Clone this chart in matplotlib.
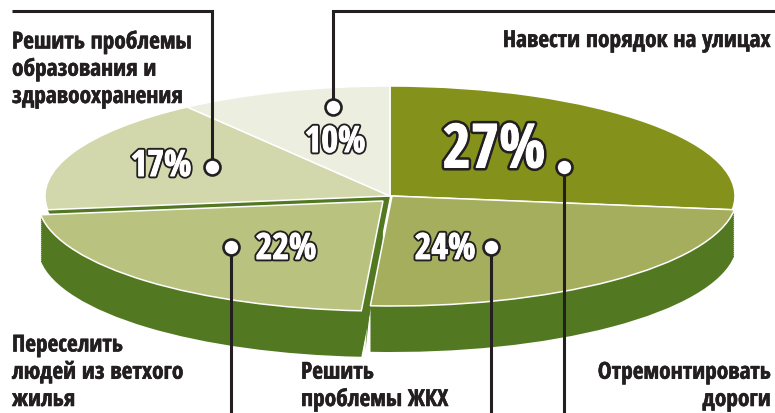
import matplotlib
matplotlib.use("Agg")
import matplotlib.pyplot as plt
import matplotlib.patheffects as pe

plt.rcParams['font.family'] = ['Open Sans Condensed', 'Roboto Condensed', 'DejaVu Sans']

values = [27, 24, 22, 17, 10]
percent_labels = ['27%', '24%', '22%', '17%', '10%']
slice_colors = ['#84921b', '#a4ae5d', '#bac280', '#d3d7ac', '#eceedf']

RIM = '#527921'
INK = '#231f20'
W, H = 775, 414
CX, CY, RX, RY = 390, 197, 345, 110
DEPTH = 46
SHIFT_22 = (-7, 5)   # pulled out slice, pixels
SHIFT_24 = (2, 0)

fig = plt.figure(figsize=(W / 100, H / 100), dpi=100)
ax = fig.add_axes([0, 0, 1, 1])


def draw_pie(colors, edge='none', lw=0):
    wedges, _ = ax.pie(values, colors=colors, startangle=90, counterclock=False,
                       radius=1, wedgeprops=dict(edgecolor=edge, linewidth=lw))
    return wedges


def move(wedge, dx, dy):
    wedge.set_center((dx / RX, -dy / RY))


# floor of the hole left by the pulled out slice
draw_pie(['none', 'none', RIM, 'none', 'none'])

# side walls, a stack of copies going down
for d in range(0, DEPTH + 1, 2):
    w = draw_pie(['none', RIM, 'none', 'none', 'none'])
    move(w[1], SHIFT_24[0], d)
for d in range(0, DEPTH + 1, 2):
    w = draw_pie(['none', 'none', RIM, 'none', 'none'])
    move(w[2], SHIFT_22[0], SHIFT_22[1] + d)

# top faces
top = draw_pie(slice_colors, edge='white', lw=1.1)
move(top[1], SHIFT_24[0], SHIFT_24[1])
move(top[2], SHIFT_22[0], SHIFT_22[1])

ax.set_aspect('auto')
ax.set_xlim(-CX / RX, (W - CX) / RX)
ax.set_ylim((CY - H) / RY, CY / RY)
ax.axis('off')

# overlay in pixel coordinates for leaders and text
ov = fig.add_axes([0, 0, 1, 1], facecolor='none')
ov.set_xlim(0, W)
ov.set_ylim(H, 0)
ov.axis('off')

# narrow sliver of wall between the two front walls
ov.fill([368, 370, 365.5], [310, 310, 351], color=RIM, lw=0)

# each leader: path, then the point where its dot sits
leaders = [
    ([12, 212, 212], [12, 12, 168], (212, 168)),
    ([775, 333, 333], [12, 12, 108], (333, 108)),
    ([564, 564], [168, 414], (564, 168)),
    ([491, 491], [248, 414], (491, 248)),
    ([231, 231], [248, 414], (231, 248)),
]
for xs, ys, dot in leaders:
    ov.plot(xs, ys, color=INK, lw=2.2, solid_joinstyle='miter', solid_capstyle='butt')
    ov.plot(dot[0], dot[1], 'o', ms=11.5, mfc='white', mec=INK, mew=1.9)

pct_pos = [(494, 153, 44), (445, 251, 26), (286, 251, 26), (161, 168, 26), (335, 144, 26)]
for lab, (x, y, size) in zip(percent_labels, pct_pos):
    outline = 4.4 if size > 30 else 3.4
    ov.text(x, y, lab, fontsize=size, fontweight='bold', color='white',
            ha='center', va='center',
            path_effects=[pe.Stroke(linewidth=outline, foreground=INK),
                          pe.Stroke(linewidth=0.7, foreground='white'),
                          pe.Normal()])

# x, baseline of the last line, alignment, text
captions = [
    (12, 104, 'left', 'Решить проблемы\nобразования и\nздравоохранения'),
    (771, 48, 'right', 'Навести порядок на улицах'),
    (12, 407, 'left', 'Переселить\nлюдей из ветхого\nжилья'),
    (301, 407, 'left', 'Решить\nпроблемы ЖКХ'),
    (771, 407, 'right', 'Отремонтировать\nдороги'),
]
for x, y, ha, txt in captions:
    ov.text(x, y, txt, fontsize=16.8, fontweight='bold', color=INK, ha=ha, va='baseline',
            multialignment=ha, linespacing=1.18,
            path_effects=[pe.withStroke(linewidth=0.4, foreground=INK)])

fig.savefig('out.png', dpi=100)
